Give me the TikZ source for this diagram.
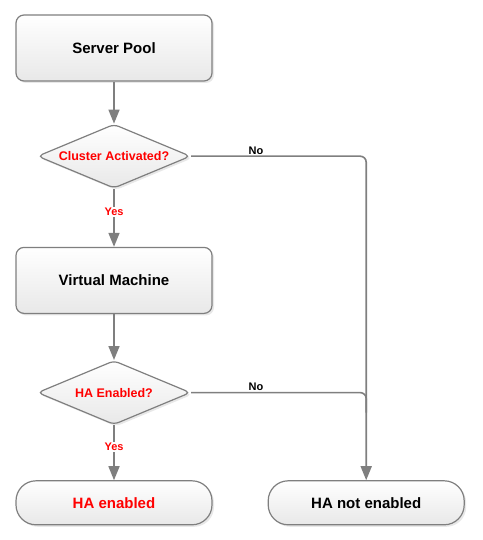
\documentclass[tikz,border=0pt]{standalone}
\usepackage{fontspec}
\setmainfont{Liberation Sans}
\usetikzlibrary{shapes.geometric, arrows.meta, positioning, shadows}
\definecolor{linegray}{HTML}{7F7F7F}
\tikzstyle{process} = [rectangle, rounded corners=8pt, minimum width=196pt, minimum height=66pt, text centered, draw=linegray, line width=1.2pt, top color=white, bottom color=black!9, drop shadow={opacity=0.18, shadow xshift=2pt, shadow yshift=-2pt}, font=\bfseries\fontsize{15}{18}\selectfont]
\tikzstyle{terminal} = [process, rounded corners=20pt, minimum height=44pt]
\tikzstyle{decision} = [diamond, aspect=2.4, minimum width=153pt, minimum height=64pt, inner sep=0pt, rounded corners=5pt, draw=linegray, line width=1.2pt, top color=white, bottom color=black!9, drop shadow={opacity=0.18, shadow xshift=2pt, shadow yshift=-2pt}, text=red, font=\bfseries\fontsize{12.5}{15}\selectfont]
\tikzstyle{arrow} = [line width=1.6pt, draw=linegray, -{Triangle[length=14pt, width=11pt]}]
\tikzstyle{answer} = [font=\bfseries\fontsize{11}{13}\selectfont, inner sep=1pt]

\begin{document}
\begin{tikzpicture}
	\useasboundingbox (0,0) rectangle (482pt,-540pt);

	% Left column
	\node (pool) [process] at (114pt,-48pt) {Server Pool};
	\node (cluster) [decision, below=42pt of pool] {Cluster Activated?};
	\node (vm) [process, below=58pt of cluster] {Virtual Machine};
	\node (ha) [decision, below=46pt of vm] {HA Enabled?};
	\node (haon) [terminal, below=55pt of ha, text=red] {HA enabled};

	% Right column
	\node (haoff) [terminal, right=55pt of haon] {HA not enabled};
	\coordinate (merge) at (ha.east -| haoff.north);

	% Arrows left column
	\draw [arrow] (pool) -- (cluster);
	\draw [arrow] (cluster) -- node [answer, text=red, fill=white, pos=0.4] {Yes} (vm);
	\draw [arrow] (vm) -- (ha);
	\draw [arrow] (ha) -- node [answer, text=red, fill=white, pos=0.4] {Yes} (haon);

	% Links to right column
	\draw [arrow, rounded corners=6pt] (cluster.east) -- node [answer, above, pos=0.37] {No} (cluster.east -| haoff.north) -- (haoff.north);
	\draw [line width=1.6pt, draw=linegray, rounded corners=6pt] (ha.east) -- node [answer, above, pos=0.37] {No} (merge) -- ([yshift=-20pt]merge);

\end{tikzpicture}
\end{document}
